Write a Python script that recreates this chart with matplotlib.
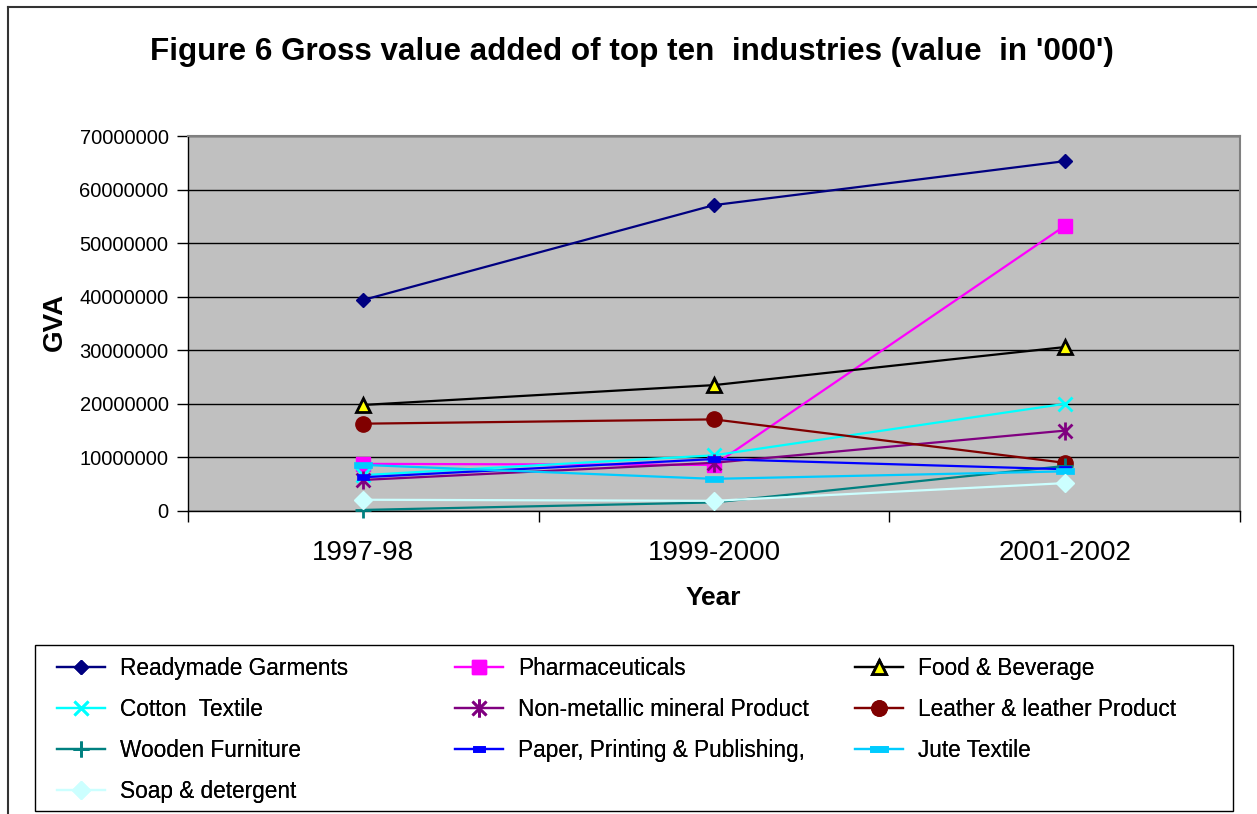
import matplotlib
matplotlib.use("Agg")
import matplotlib.pyplot as plt
from matplotlib.path import Path
from matplotlib.lines import Line2D
from matplotlib.patches import Rectangle
import numpy as np

plt.rcParams['font.family'] = ['Liberation Sans', 'DejaVu Sans']

years = ["1997-98", "1999-2000", "2001-2002"]
readymade = [39400000, 57100000, 65300000]
pharma = [8800000, 8600000, 53200000]
food = [19800000, 23500000, 30600000]
cotton = [6700000, 10400000, 20000000]
nonmetal = [5800000, 9000000, 15000000]
leather = [16300000, 17100000, 9000000]
wooden = [200000, 1600000, 8400000]
paper = [6300000, 9700000, 7800000]
jute = [8600000, 6000000, 7400000]
soap = [2100000, 1900000, 5200000]
yticks = [0, 10000000, 20000000, 30000000, 40000000, 50000000, 60000000, 70000000]

W, H = 1257, 814
fig = plt.figure(figsize=(W / 100, H / 100), dpi=100)
ax = fig.add_axes([188 / W, 1 - 511 / H, (1240 - 188) / W, (511 - 136) / H])
ax.set_facecolor('#C0C0C0')

M, L = Path.MOVETO, Path.LINETO
asterisk = Path([(-1, -1), (1, 1), (-1, 1), (1, -1), (0, -1.3), (0, 1.3)], [M, L, M, L, M, L])
dash_small = Path([(-1, -0.5), (1, -0.5), (1, 0.5), (-1, 0.5), (-1, -0.5)], [M, L, L, L, Path.CLOSEPOLY])
dash_wide = Path([(-1, -0.35), (1, -0.35), (1, 0.35), (-1, 0.35), (-1, -0.35)], [M, L, L, L, Path.CLOSEPOLY])

x = np.arange(len(years))
lw = 1.6
series = [
    ("Readymade Garments", readymade, dict(color='#000080', marker='D', ms=7.5, mfc='#000080', mec='#000080')),
    ("Pharmaceuticals", pharma, dict(color='#FF00FF', marker='s', ms=10, mfc='#FF00FF', mec='#FF00FF')),
    ("Food & Beverage", food, dict(color='#000000', marker='^', ms=10, mfc='#FFFF00', mec='#000000', mew=2)),
    ("Cotton  Textile", cotton, dict(color='#00FFFF', marker='x', ms=10, mec='#00FFFF', mew=2)),
    ("Non-metallic mineral Product", nonmetal, dict(color='#800080', marker=asterisk, ms=13, mec='#800080', mew=2)),
    ("Leather & leather Product", leather, dict(color='#800000', marker='o', ms=11, mfc='#800000', mec='#800000')),
    ("Wooden Furniture", wooden, dict(color='#008080', marker='+', ms=11, mec='#008080', mew=2)),
    ("Paper, Printing & Publishing,", paper, dict(color='#0000FF', marker=dash_small, ms=8, mfc='#0000FF', mec='#0000FF', mew=0.5)),
    ("Jute Textile", jute, dict(color='#00CCFF', marker=dash_wide, ms=13, mfc='#00CCFF', mec='#00CCFF', mew=0.5)),
    ("Soap & detergent", soap, dict(color='#CCFFFF', marker='D', ms=9.5, mfc='#CCFFFF', mec='#CCFFFF')),
]
handles = {}
for name, vals, kw in series:
    h, = ax.plot(x, vals, lw=lw, label=name, clip_on=False, zorder=3, **kw)
    handles[name] = h

ax.set_xlim(-0.5, 2.5)
ax.set_ylim(0, 70000000)
ax.set_yticks(yticks)
ax.set_yticklabels([str(v) for v in yticks], fontsize=14.5)
ax.yaxis.grid(True, color='#000000', lw=1)
ax.set_axisbelow(True)
ax.set_xticks([-0.5, 0.5, 1.5, 2.5])
ax.set_xticklabels([])
ax.set_xticks(x, minor=True)
ax.set_xticklabels(years, minor=True, fontsize=20)
ax.tick_params(axis='x', which='minor', length=0, pad=21)
ax.tick_params(axis='x', which='major', length=8, direction='out', width=1)
ax.tick_params(axis='y', length=8, direction='out', width=1, pad=6)
for s in ['top', 'right']:
    ax.spines[s].set_color('#808080')
    ax.spines[s].set_linewidth(1.5)
for s in ['left', 'bottom']:
    ax.spines[s].set_color('#000000')
    ax.spines[s].set_linewidth(1)

fig.text(632 / W, 1 - 52 / H, "Figure 6 Gross value added of top ten  industries (value  in '000')",
         ha='center', va='center', fontsize=22.6, fontweight='bold')
fig.text(55 / W, 1 - 322 / H, "GVA", rotation=90, ha='center', va='center', fontsize=20, fontweight='bold')
fig.text(713 / W, 1 - 598 / H, "Year", ha='center', va='center', fontsize=19, fontweight='bold')

columns = [
    ["Readymade Garments", "Cotton  Textile", "Wooden Furniture", "Soap & detergent"],
    ["Pharmaceuticals", "Non-metallic mineral Product", "Paper, Printing & Publishing,"],
    ["Food & Beverage", "Leather & leather Product", "Jute Textile"],
]
col_x = [57, 455, 855]
for cx, names in zip(col_x, columns):
    leg = fig.legend([handles[n] for n in names], names, ncol=1, loc='upper left',
                     bbox_to_anchor=(cx / W, 1 - 657 / H), frameon=False,
                     fontsize=16.3, handlelength=2.1, handletextpad=0.7, labelspacing=0.79,
                     borderpad=0, borderaxespad=0)
    fig.add_artist(leg)

fig.add_artist(Rectangle((35 / W, 1 - 811 / H), (1233 - 35) / W, (811 - 645) / H,
                         transform=fig.transFigure, fill=False, edgecolor='#000000', lw=1))

# outer chart frame
fig.add_artist(Line2D([8 / W, 8 / W], [0, 1 - 7 / H], transform=fig.transFigure, color='#333333', lw=1.5))
fig.add_artist(Line2D([8 / W, 1], [1 - 7 / H, 1 - 7 / H], transform=fig.transFigure, color='#333333', lw=1.5))

fig.savefig('out.png', dpi=100)
